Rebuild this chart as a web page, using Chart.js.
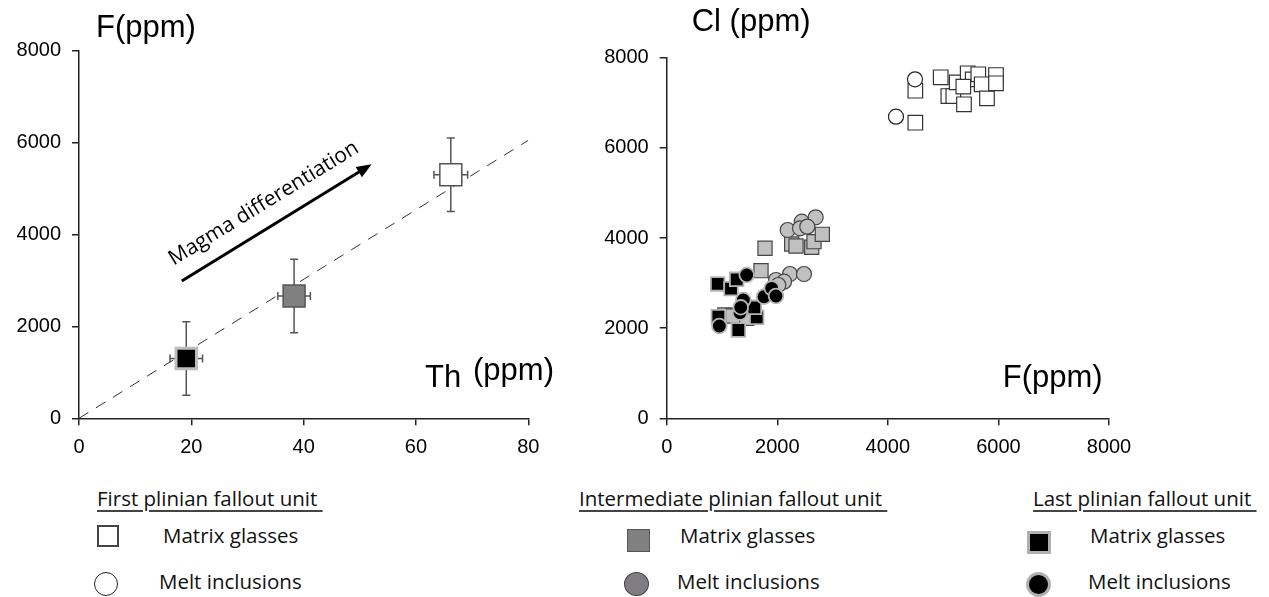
<!DOCTYPE html>
<html>
<head>
<meta charset="utf-8">
<script src="https://cdn.jsdelivr.net/npm/chart.js@4.4.1/dist/chart.umd.min.js"></script>
<style>
  html, body { margin: 0; padding: 0; background: #fff; }
  #page { position: relative; width: 1269px; height: 597px; overflow: hidden; font-family: "Open Sans", sans-serif; color: #111; }
  .box { position: absolute; }
  .lg { position: absolute; font-size: 20.5px; line-height: 20px; white-space: nowrap; }
  .hd { text-decoration: underline; text-decoration-thickness: 2px; text-underline-offset: 4px; text-decoration-color: #444; }
  .sym { position: absolute; box-sizing: border-box; }
</style>
</head>
<body>
<div id="page">
  <div class="box" style="left:0;top:0;width:560px;height:470px"><canvas id="thF"></canvas></div>
  <div class="box" style="left:580px;top:0;width:580px;height:470px"><canvas id="fCl"></canvas></div>

  <div class="lg hd" style="left:97px;top:488px">First plinian fallout unit&nbsp;</div>
  <div class="sym" style="left:97px;top:525px;width:22px;height:22px;border:2px solid #444;background:#fff"></div>
  <div class="lg" style="left:163px;top:525px">Matrix glasses</div>
  <div class="sym" style="left:94px;top:572px;width:24px;height:24px;border:1.5px solid #222;border-radius:50%;background:#fff"></div>
  <div class="lg" style="left:159px;top:571px">Melt inclusions</div>

  <div class="lg hd" style="left:579px;top:488px">Intermediate plinian fallout unit&nbsp;</div>
  <div class="sym" style="left:627px;top:529px;width:23px;height:23px;border:1px solid #555;background:#808080"></div>
  <div class="lg" style="left:680px;top:525px">Matrix glasses</div>
  <div class="sym" style="left:624px;top:572px;width:25px;height:24px;border:1.5px solid #444;border-radius:50%;background:#7f7c82"></div>
  <div class="lg" style="left:677px;top:571px">Melt inclusions</div>

  <div class="lg hd" style="left:1033px;top:488px">Last plinian fallout unit&nbsp;</div>
  <div class="sym" style="left:1027px;top:531px;width:24px;height:23px;border:3px solid #b0b0b0;background:#000"></div>
  <div class="lg" style="left:1090px;top:525px">Matrix glasses</div>
  <div class="sym" style="left:1026px;top:572px;width:25px;height:25px;border:3px solid #b0b0b0;border-radius:50%;background:#000"></div>
  <div class="lg" style="left:1088px;top:571px">Melt inclusions</div>
</div>

<script>
// ---- left panel: Th vs F, one mean per unit (last, intermediate, first) ----
const thMean = [19.1, 38.3, 66.2];
const thErr = [2.9, 2.9, 3.0];
const fMean = [1300, 2660, 5300];
const fErr = [800, 800, 800];
const trendTh = [0, 80];
const trendF = [0, 6050];
const arrowTh = [18.3, 52.1];
const arrowF = [2990, 5530];
const thTicks = [0, 20, 40, 60, 80];

// ---- right panel: F vs Cl ----
const firstMgF = [4497, 4497, 4956, 5094, 5184, 5377, 5245, 5444, 5535, 5636, 5697, 5793, 5956, 5956, 5365];
const firstMgCl = [7268, 6558, 7565, 7150, 7150, 6966, 7454, 7654, 7520, 7632, 7410, 7099, 7616, 7432, 7357];
const firstMiF = [4491, 4147];
const firstMiCl = [7520, 6692];

const interMgF = [1778, 2261, 2339, 2623, 2664, 2815, 1706, 1054, 1193, 1447];
const interMgCl = [3772, 3867, 3823, 3794, 3918, 4082, 3275, 2292, 2270, 2218];
const interMiF = [2188, 2442, 2695, 2411, 2543, 2230, 2483, 1977, 2122, 2019];
const interMiCl = [4177, 4362, 4459, 4215, 4251, 3201, 3201, 3068, 3031, 2957];

const lastMgF = [922, 1163, 1266, 934, 1296, 1628, 1585];
const lastMgCl = [2980, 2876, 3084, 2254, 1959, 2241, 2463];
const lastMiF = [952, 1447, 1386, 1326, 1339, 1760, 1899, 1977];
const lastMiCl = [2048, 3179, 2625, 2343, 2463, 2698, 2884, 2713];

const ppmTicks = [0, 2000, 4000, 6000, 8000];

const pts = (xs, ys) => xs.map((x, i) => ({ x: x, y: ys[i] }));
const tickFont = { family: "'Liberation Sans', Arial, sans-serif", size: 20 };
const titleFont = "31px 'Liberation Sans', Arial, sans-serif";

function axes(xMax, xTicks, yLeft, xBottomH) {
  return {
    x: {
      type: 'linear', min: 0, max: xMax,
      afterBuildTicks: s => { s.ticks = xTicks.map(v => ({ value: v })); },
      afterFit: s => { s.height = xBottomH; },
      grid: { drawOnChartArea: false, drawTicks: true, tickLength: 7, color: '#222', lineWidth: 1.5 },
      border: { display: true, color: '#222', width: 1.5 },
      ticks: { color: '#000', font: tickFont, padding: 10, maxRotation: 0, callback: v => String(v) }
    },
    y: {
      type: 'linear', min: 0, max: 8000,
      afterBuildTicks: s => { s.ticks = ppmTicks.map(v => ({ value: v })); },
      afterFit: s => { s.width = yLeft; },
      grid: { drawOnChartArea: false, drawTicks: true, tickLength: 7, color: '#222', lineWidth: 1.5 },
      border: { display: true, color: '#222', width: 1.5 },
      ticks: { color: '#000', font: tickFont, padding: 11, callback: v => String(v) }
    }
  };
}

// error bars, arrow and labels for the left panel
const leftDecor = {
  id: 'leftDecor',
  beforeDatasetsDraw(chart) {
    const { ctx, scales: { x, y } } = chart;
    ctx.save();
    ctx.strokeStyle = '#555';
    ctx.lineWidth = 1.5;
    thMean.forEach((t, i) => {
      const cx = x.getPixelForValue(t), cy = y.getPixelForValue(fMean[i]);
      const y0 = y.getPixelForValue(fMean[i] - fErr[i]), y1 = y.getPixelForValue(fMean[i] + fErr[i]);
      const x0 = x.getPixelForValue(t - thErr[i]), x1 = x.getPixelForValue(t + thErr[i]);
      ctx.beginPath();
      ctx.moveTo(cx, y0); ctx.lineTo(cx, y1);
      ctx.moveTo(cx - 4, y0); ctx.lineTo(cx + 4, y0);
      ctx.moveTo(cx - 4, y1); ctx.lineTo(cx + 4, y1);
      ctx.moveTo(x0, cy); ctx.lineTo(x1, cy);
      ctx.moveTo(x0, cy - 4); ctx.lineTo(x0, cy + 4);
      ctx.moveTo(x1, cy - 4); ctx.lineTo(x1, cy + 4);
      ctx.stroke();
    });
    ctx.restore();
  },
  afterDatasetsDraw(chart) {
    const { ctx, scales: { x, y } } = chart;
    const ax0 = x.getPixelForValue(arrowTh[0]), ay0 = y.getPixelForValue(arrowF[0]);
    const ax1 = x.getPixelForValue(arrowTh[1]), ay1 = y.getPixelForValue(arrowF[1]);
    const ang = Math.atan2(ay1 - ay0, ax1 - ax0);
    const len = Math.hypot(ax1 - ax0, ay1 - ay0);
    ctx.save();
    ctx.translate(ax0, ay0);
    ctx.rotate(ang);
    ctx.fillStyle = '#000';
    ctx.strokeStyle = '#000';
    ctx.lineWidth = 3;
    ctx.beginPath();
    ctx.moveTo(0, 0); ctx.lineTo(len - 12, 0);
    ctx.stroke();
    ctx.beginPath();
    ctx.moveTo(len, 0); ctx.lineTo(len - 15, -6); ctx.lineTo(len - 15, 6);
    ctx.closePath();
    ctx.fill();
    ctx.font = "21px 'Open Sans', sans-serif";
    ctx.textAlign = 'center';
    ctx.textBaseline = 'alphabetic';
    ctx.fillText('Magma differentiation', len / 2 - 1, -17);
    ctx.restore();
  },
  afterDraw(chart) {
    const { ctx, chartArea: a } = chart;
    ctx.save();
    ctx.fillStyle = '#000';
    ctx.font = titleFont;
    ctx.textBaseline = 'alphabetic';
    ctx.fillText('F(ppm)', a.left + 17, 37);
    ctx.fillText('Th', a.left + 346, 387);
    ctx.fillText('(ppm)', a.left + 394, 380);
    ctx.restore();
  }
};

const rightDecor = {
  id: 'rightDecor',
  afterDraw(chart) {
    const { ctx, chartArea: a } = chart;
    ctx.save();
    ctx.fillStyle = '#000';
    ctx.font = titleFont;
    ctx.textBaseline = 'alphabetic';
    ctx.fillText('Cl (ppm)', a.left + 25, 31);
    ctx.fillText('F(ppm)', a.left + 336, 387);
    ctx.restore();
  }
};

new Chart(document.getElementById('thF'), {
  type: 'scatter',
  data: {
    datasets: [
      { label: 'Last', order: 0, data: pts([thMean[0]], [fMean[0]]), pointStyle: 'rect', pointRadius: 14.5,
        backgroundColor: '#000', borderColor: '#bdbdbd', borderWidth: 3 },
      { label: 'Intermediate', order: 1, data: pts([thMean[1]], [fMean[1]]), pointStyle: 'rect', pointRadius: 15.5,
        backgroundColor: '#808080', borderColor: '#555', borderWidth: 1.5 },
      { label: 'First', order: 2, data: pts([thMean[2]], [fMean[2]]), pointStyle: 'rect', pointRadius: 15.5,
        backgroundColor: '#fff', borderColor: '#555', borderWidth: 1.5 },
      { label: 'trend', type: 'line', order: 5, data: pts(trendTh, trendF), borderColor: '#333', borderWidth: 1,
        borderDash: [11, 9], pointRadius: 0, fill: false }
    ]
  },
  options: {
    responsive: true, maintainAspectRatio: false, animation: false, events: [],
    layout: { padding: { left: 0, top: 50.7, right: 31.7, bottom: 0 } },
    plugins: { legend: { display: false }, tooltip: { enabled: false } },
    scales: axes(80, thTicks, 79, 51.7)
  },
  plugins: [leftDecor]
});

new Chart(document.getElementById('fCl'), {
  type: 'scatter',
  data: {
    datasets: [
      { label: 'Last MI', order: 0, data: pts(lastMiF, lastMiCl), pointStyle: 'circle', pointRadius: 7.3,
        backgroundColor: '#000', borderColor: '#b5b5b5', borderWidth: 1.8 },
      { label: 'Last MG', order: 1, data: pts(lastMgF, lastMgCl), pointStyle: 'rect', pointRadius: 9.6,
        backgroundColor: '#000', borderColor: '#b5b5b5', borderWidth: 1.8 },
      { label: 'Inter MI', order: 2, data: pts(interMiF, interMiCl), pointStyle: 'circle', pointRadius: 7.5,
        backgroundColor: '#c0c0c0', borderColor: '#444', borderWidth: 1.2 },
      { label: 'Inter MG', order: 3, data: pts(interMgF, interMgCl), pointStyle: 'rect', pointRadius: 10,
        backgroundColor: '#c0c0c0', borderColor: '#444', borderWidth: 1.2 },
      { label: 'First MI', order: 4, data: pts(firstMiF, firstMiCl), pointStyle: 'circle', pointRadius: 7.5,
        backgroundColor: '#fff', borderColor: '#222', borderWidth: 1.2 },
      { label: 'First MG', order: 5, data: pts(firstMgF, firstMgCl), pointStyle: 'rect', pointRadius: 10.3,
        backgroundColor: '#fff', borderColor: '#333', borderWidth: 1.2 }
    ]
  },
  options: {
    responsive: true, maintainAspectRatio: false, animation: false, events: [],
    layout: { padding: { left: 0, top: 57.7, right: 51, bottom: 0 } },
    plugins: { legend: { display: false }, tooltip: { enabled: false } },
    scales: axes(8000, ppmTicks, 86.7, 51.7)
  },
  plugins: [rightDecor]
});
</script>
</body>
</html>
